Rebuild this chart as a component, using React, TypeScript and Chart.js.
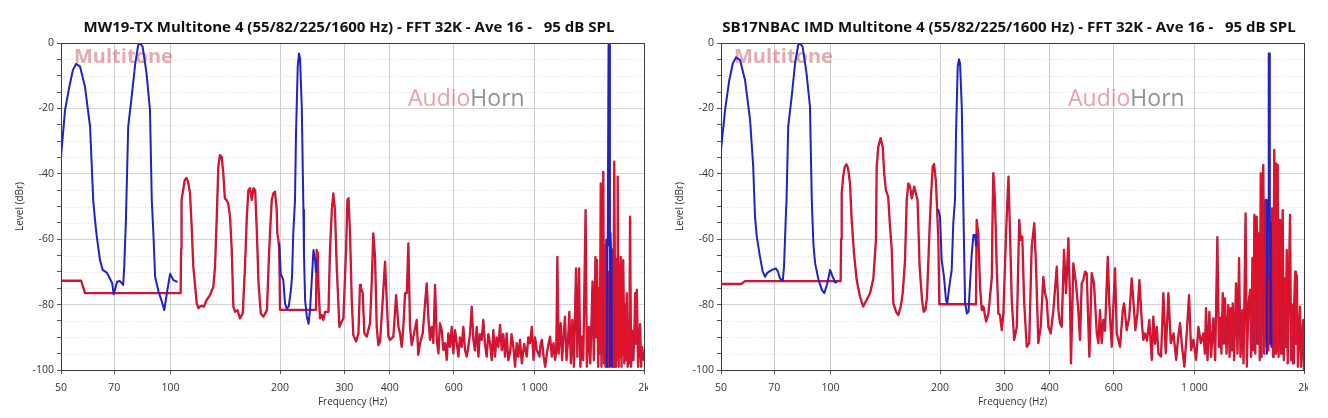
import React, { useEffect, useRef } from 'react';
import { Chart, registerables } from 'chart.js';

Chart.register(...registerables);
Chart.defaults.font.family = "'Open Sans', 'Noto Sans', sans-serif";

type Pt = [number, number];

// ---------- axis ticks ----------
const xTickValues = [50, 70, 100, 200, 300, 400, 600, 1000, 2000];
const xTickLabels = ['50', '70', '100', '200', '300', '400', '600', '1 000', '2k'];
const yLabelValues = [0, -20, -40, -60, -80, -100];

// ---------- titles ----------
const leftTitle = 'MW19-TX Multitone 4 (55/82/225/1600 Hz) - FFT 32K - Ave 16 -   95 dB SPL';
const rightTitle = 'SB17NBAC IMD Multitone 4 (55/82/225/1600 Hz) - FFT 32K - Ave 16 -   95 dB SPL';

// ---------- MW19-TX (left) : fundamentals (blue) ----------
const mwBlueLow: Pt[] = [
  [50, -34.9], [51.3, -20.5], [52.7, -13.4], [53.9, -8.3], [55, -6.4], [56.4, -7.2], [58.2, -13.4], [60.1, -25.6],
  [61.3, -48], [62, -54.1], [62.7, -59.2], [64, -66.4], [65.1, -69.4], [66.9, -70.3], [69.1, -73.4], [69.8, -76.8],
  [71.3, -73], [72.6, -72.8], [74.1, -74], [74.6, -68.4], [75.4, -54.1], [76.5, -25.6], [78.2, -16.4], [79.9, -6.7],
  [81.5, -0.6], [82.4, -0.1], [83.8, -1.1], [85.9, -9.3], [87.8, -20.5], [88.8, -48], [89.7, -58.2], [90.7, -71.5],
  [92.7, -76.1], [94.7, -79.1], [96.1, -81.7], [97.7, -76.5], [99.7, -70.6], [101.8, -72.5], [104, -73],
];
const mwBlueMid: Pt[] = [
  [199, -61.3], [200.8, -70.5], [204.1, -72.5], [206.3, -79.6], [208.5, -81.2], [211.2, -80.6], [213.9, -76.1],
  [215.7, -71.5], [217.4, -58.2], [219.8, -48], [221.2, -27.6], [223.6, -7.2], [225.4, -3.2], [226.9, -4.7],
  [229.4, -19.5], [231.8, -51], [232.6, -64.3], [234.3, -78.6], [236.9, -83.7], [239.4, -85.9], [241.7, -81.7],
  [244.4, -72.5], [247, -63.3], [249.6, -66.4], [251, -70],
];
const mwBlueHigh: Pt[] = [
  [1580, -99], [1584, -60], [1590, -62], [1598, -0.6], [1605, -0.6], [1612, -99], [1618, -58], [1624, -63], [1630, -99],
];

// ---------- MW19-TX (left) : distortion (red) ----------
const mwRed: Pt[] = [
  [50, -72.7], [56.8, -72.7], [58.2, -76.5], [106.6, -76.5], [106.9, -63], [107.2, -48], [108.3, -45], [109.4, -41.9],
  [110.6, -41.3], [111.7, -42.4], [113.1, -45.9], [114.3, -56.2], [115.5, -68.4], [118, -79.6], [119.3, -81.1],
  [120.5, -80.6], [122, -80.4], [123.5, -80.6], [125.6, -78.6], [128.4, -77.1], [131.1, -74.5], [132.5, -68.4],
  [133.9, -54.1], [135.3, -37.8], [136.7, -34.3], [138.2, -34.8], [139.6, -39.8], [141, -47.5], [142.5, -48],
  [144, -49], [145.7, -53.1], [147.3, -63.3], [148.8, -80.6], [150.4, -82.2], [152.7, -81.7], [155.2, -84.2],
  [157.9, -82.7], [160.2, -68.4], [161.9, -54.1], [163.6, -45], [165.4, -44.4], [167.2, -48], [169, -44.4],
  [170.8, -45], [172.7, -58.2], [174.5, -73.5], [177, -82.7], [180, -83.7], [184, -81.7], [185.9, -68.4],
  [187.6, -58.2], [189.7, -48], [191.6, -46], [193.7, -45.5], [195.8, -51.1], [196.5, -58.2], [197.8, -60.2],
  [199, -63.3], [199.9, -81.6], [251, -81.6], [252.1, -63.3], [253.2, -66], [253.8, -64], [254.7, -73.4],
  [257.5, -84.2], [260.3, -83.2], [263, -84.7], [265.9, -82.2], [271.6, -82.2], [274.3, -63], [277.5, -51],
  [280.1, -46], [283, -51], [286.2, -68.4], [291.1, -86.8], [295.4, -85.2], [298.5, -84.2], [303.6, -63.3],
  [306.2, -48], [308.3, -47.5], [311.3, -58.2], [314.7, -78.6], [317.9, -89.3], [323.5, -91.3], [328.3, -88.8],
  [331.6, -74], [333.7, -75], [337.4, -76.5], [340.8, -88.8], [346, -89.8], [353.3, -85.7], [357.1, -73.5],
  [360.8, -58.2], [364.7, -65.4], [368.6, -86.8], [372.4, -92.4], [376.4, -91.3], [382.9, -78.6], [388.5, -66.9],
  [392.7, -78.6], [396.8, -89.8], [401, -90.8], [409.5, -89.8], [416.7, -77.1], [422.9, -86.8], [427.1, -88.8],
  [431.7, -92.9], [436.2, -86.8], [441, -76.5], [445.8, -76.5], [450.4, -61.3], [455, -86.8], [460, -92.4],
  [466.7, -88.8], [474.7, -84.7], [479.5, -95.4], [484.7, -91.8], [493.1, -88.8], [497.2, -83.7], [505.7, -73.5],
  [510.9, -83.7], [516.4, -90.8], [522, -86.8], [527.4, -91.8], [533.2, -74], [539, -90.8], [544.6, -94.9],
  [550.1, -85.7], [556, -87.8], [561.8, -93.9], [567.9, -91.8], [574, -96.9], [579.8, -88.8], [586.1, -92.9],
  [592.5, -86.8], [598.6, -94.9], [605, -87.8], [611.6, -91.8], [618, -95.9], [624, -90], [631, -92.9],
  [637.6, -86.8], [644.5, -93.9], [651.4, -95.9], [658, -92.9], [665, -89], [672.3, -80.6], [679.5, -90.8],
  [686, -94], [694, -86.8], [701.5, -95.9], [708, -89], [716, -90.8], [723.6, -84.7], [731, -91.8], [739.1, -95.9],
  [747, -89], [754.9, -91.8], [763, -97], [770.8, -87.8], [779, -95.9], [787, -90], [796, -92.9], [804.3, -86.2],
  [813, -93.9], [821, -89], [830, -95.9], [838.8, -88.8], [847, -97], [856.8, -94.9], [865, -89], [875, -92.9],
  [884.5, -99], [894, -91.8], [903, -96], [912.8, -90.8], [923, -98], [937, -92], [952, -95.9], [962, -90],
  [972.4, -91.8], [983.4, -86.8], [994, -96.9], [1004, -90], [1015, -93.9], [1032, -95.9], [1040, -92],
  [1048, -90.8], [1060, -96], [1070, -99], [1082, -94.9], [1093, -92], [1104, -89.8], [1116, -95.9], [1128, -91.8],
  [1140, -96.9], [1148, -94], [1156, -65.4], [1165, -95], [1181, -85.7], [1191, -97], [1202, -90], [1213, -83.7],
  [1225, -97], [1237, -91], [1247, -82.2], [1259, -98], [1271, -84.7], [1283, -99], [1301, -68.9], [1312, -96],
  [1326, -68.9], [1337, -99], [1351, -89.8], [1362, -97], [1382, -51.1], [1393, -99], [1411, -86.8], [1424, -98],
  [1444, -73], [1456, -97], [1471, -65.4], [1479, -90], [1486, -66.4], [1497, -99], [1505, -75], [1513, -95],
  [1521, -42.9], [1528, -99], [1536, -70], [1546, -39.4], [1553, -98], [1561, -62], [1568, -99], [1576, -60.2],
  [1586, -99], [1593, -70], [1603, -99], [1613, -72], [1623, -98], [1634, -63.3], [1644, -99], [1651, -70],
  [1657, -36.3], [1668, -99], [1675, -66], [1686, -97], [1693, -40.9], [1704, -99], [1713, -68], [1719, -96],
  [1726, -65.4], [1735, -99], [1743, -72], [1749, -95], [1754, -66.4], [1766, -98], [1777, -80], [1785, -97],
  [1793, -76.5], [1804, -99], [1815, -85], [1822, -98], [1831, -53.1], [1843, -99], [1854, -88], [1870, -97],
  [1880, -90], [1891, -76.5], [1900, -92], [1911, -75.5], [1927, -99], [1939, -92], [1951, -86], [1964, -99],
  [1976, -93], [1992, -95.9], [2000, -97],
];

// ---------- SB17NBAC (right) : fundamentals (blue) ----------
const sbBlueLow: Pt[] = [
  [50, -32.7], [51.3, -20.5], [52.7, -11.3], [53.9, -6.2], [55, -4.4], [56.4, -5.2], [58.2, -11.3], [60.1, -23.5],
  [61.3, -37.8], [62, -53], [62.7, -59.2], [64, -65.4], [65.1, -69.9], [66.1, -71.5], [67.1, -70.2], [69.1, -69.4],
  [70.7, -68.9], [71.7, -69.9], [72.6, -72], [73.9, -72.7], [74.5, -68.4], [75.3, -54.1], [75.7, -48], [76.5, -25.6],
  [78.2, -16.4], [79.9, -6.2], [81.5, -0.6], [82.4, -0.1], [83.8, -1.1], [85.9, -9.3], [87.8, -19.5], [88.8, -48],
  [89.7, -61.3], [90.7, -67.4], [92.7, -72.5], [94.7, -75.5], [96.1, -76.5], [97.7, -74], [99.7, -69.4],
  [101.4, -71.5], [103, -73.3], [104, -73],
];
const sbBlueMid: Pt[] = [
  [197.8, -51], [199.9, -53.1], [202, -66.4], [205, -71.5], [207.6, -78.6], [209.3, -79.6], [212, -74.5],
  [215.2, -69.4], [217.4, -55.1], [219.8, -48], [221.2, -27.6], [223.6, -7.2], [225.4, -5], [226.9, -6.2],
  [229.4, -19.5], [231.8, -51], [232.9, -64.3], [234.3, -79.6], [236.9, -82.7], [239.4, -82.2], [241.7, -73.5],
  [244.4, -64.3], [247, -58.7], [249.6, -58.7], [251, -62],
];
const sbBlueHigh: Pt[] = [
  [1578, -95], [1582, -48], [1588, -72], [1594, -50], [1600, -3.2], [1606, -3.2], [1611, -45], [1616, -92],
  [1622, -55], [1628, -93],
];

// ---------- SB17NBAC (right) : distortion (red) ----------
const sbRed: Pt[] = [
  [50, -73.7], [56.8, -73.7], [58.2, -72.8], [106.6, -72.8], [106.9, -60], [107.3, -46], [108.3, -40.9],
  [109.4, -37.8], [110.6, -37.1], [111.7, -38.3], [113.1, -42.9], [114.3, -54.1], [116, -64.3], [118, -72.5],
  [120.5, -77.6], [123, -80.6], [125.6, -78.6], [128.4, -76.5], [131.1, -72], [133.3, -60.2], [133.9, -37.8],
  [135.3, -31.7], [137.3, -29.1], [139.1, -31.7], [140.4, -39.8], [141.9, -45], [144, -47], [145.7, -56.2],
  [147.3, -63.3], [148.8, -79.6], [151.4, -82.2], [153.6, -83.2], [155.9, -80.6], [157.9, -76.5], [160.2, -66.4],
  [161.9, -48], [163.6, -42.9], [165.4, -43.9], [167.2, -47.5], [169.8, -43.9], [171.6, -46], [173.4, -48],
  [175.7, -68.4], [178.4, -78.6], [180.3, -82.2], [182.2, -81.7], [184.1, -77.6], [187.2, -56.2], [188.6, -48],
  [190.9, -37.8], [192.5, -37], [194.6, -41.9], [195.8, -48], [197.8, -60.2], [199, -79.9], [251, -79.9],
  [252.1, -54.1], [254.7, -58.2], [257.5, -74.5], [260.3, -81.7], [263, -80.6], [267.6, -85.2], [271.6, -82.7],
  [277.5, -71.5], [278.5, -56], [280.1, -39.8], [283, -48], [286.2, -68.4], [289.2, -82.7], [292.2, -83.2],
  [295.4, -87.8], [298.5, -82.7], [303.6, -58.2], [306.2, -48], [308.3, -40.9], [311.3, -58.2], [314.7, -78.6],
  [319.6, -90.8], [325.1, -86.8], [330, -54.1], [333.1, -60.2], [336.5, -59.2], [340.2, -78.6], [346, -92.9],
  [351.4, -91.8], [357.1, -62.3], [363, -55.1], [367, -68.4], [372.4, -91.8], [378, -86.8], [384.3, -71.5],
  [388.5, -76.5], [392.7, -78.6], [396.8, -86.8], [402.8, -88.8], [409.5, -81.7], [418.5, -68.4], [422.9, -81.7],
  [427.1, -85.7], [431.7, -86.8], [438.1, -63.3], [443.7, -76.5], [450.4, -59.7], [455, -78.6], [457.9, -98],
  [464.7, -67.4], [472.6, -73.5], [479.5, -81.7], [484.7, -90.8], [490, -73.5], [495.1, -72.5], [500.5, -69.9],
  [505.7, -70.4], [514.3, -95.9], [522, -70.4], [529.7, -73.5], [539, -88.8], [544.6, -91.8], [550.1, -81.7],
  [556, -91.8], [561.8, -84.7], [567.9, -88], [577.8, -65.4], [583.5, -79.6], [592.5, -92.9], [598.6, -80.6],
  [605, -68.9], [611.6, -88.8], [624.4, -92.9], [635.4, -81.7], [640.6, -79.6], [651.4, -87.8], [662.1, -83.7],
  [672.3, -72], [679.3, -78.6], [688.1, -87.8], [697.1, -82.7], [705.9, -72.5], [717, -85.7], [723.6, -90.8],
  [731.5, -88.8], [740.8, -91], [751.6, -84.7], [763.3, -96.9], [770.8, -83.7], [779.2, -92], [787.6, -86.8],
  [796.6, -95], [809.4, -95.9], [821.4, -76.5], [833.9, -94.9], [848, -76.5], [861.1, -91.8], [875.6, -88.8],
  [890.7, -96.9], [900.5, -90.8], [912.8, -85.7], [924.5, -92.9], [938, -99], [952.3, -88.8], [966.3, -77.1],
  [978.7, -93.9], [993.2, -90.8], [1010.6, -96.9], [1025.5, -86.8], [1041.4, -91.8], [1058.7, -88.8],
  [1068, -95], [1076, -81.1], [1086, -97], [1099, -82.2], [1111, -96], [1127, -84.2], [1140, -97], [1156, -59.4],
  [1167, -93], [1176, -84], [1186, -95], [1196, -76.5], [1205, -92], [1213, -78.1], [1225, -95], [1239, -80.1],
  [1249, -96], [1258, -81.1], [1266, -94], [1274, -79.6], [1285, -97], [1301, -73.5], [1313, -95], [1326, -65.8],
  [1338, -96], [1354, -81.7], [1364, -98], [1382, -52.1], [1393, -99], [1407, -80], [1422, -75.5], [1431, -96],
  [1443, -65.8], [1452, -94], [1461, -52.6], [1470, -95], [1483, -53.1], [1492, -92], [1502, -58.2], [1511, -97],
  [1521, -39.8], [1529, -96], [1537, -60], [1546, -37.3], [1555, -95], [1563, -62], [1570, -48], [1580, -93],
  [1588, -60], [1596, -94], [1607, -70], [1617, -92], [1626, -65], [1634, -50.6], [1644, -96], [1650, -70],
  [1657, -32.7], [1667, -95], [1675, -36.8], [1685, -94], [1693, -37.3], [1703, -96], [1710, -60], [1719, -54.1],
  [1730, -95], [1738, -65], [1748, -51.1], [1760, -97], [1771, -72], [1781, -93], [1793, -63.3], [1804, -98],
  [1816, -75], [1831, -52.6], [1843, -97], [1854, -80], [1868, -98], [1877, -82], [1891, -69.9], [1900, -92],
  [1911, -71], [1924, -99], [1939, -88], [1951, -80.6], [1964, -99], [1976, -90], [1992, -84.7], [2000, -100],
];

// ---------- styling ----------
const BLUE = '#2222c0';
const RED_CORE = '#e8142a';
const RED_EDGE = '#b8163c';

const decorPlugin = {
  id: 'panelDecor',
  beforeDatasetsDraw(chart: any) {
    const { ctx, chartArea: a, scales } = chart;
    const y = scales.y;
    ctx.save();
    // minor dotted horizontal grid
    ctx.strokeStyle = '#dadada';
    ctx.lineWidth = 1;
    ctx.setLineDash([1, 2]);
    for (const t of y.ticks) {
      if (yLabelValues.includes(t.value)) continue;
      const py = Math.round(y.getPixelForValue(t.value)) + 0.5;
      ctx.beginPath();
      ctx.moveTo(a.left, py);
      ctx.lineTo(a.right, py);
      ctx.stroke();
    }
    ctx.setLineDash([]);
    // watermarks
    ctx.textBaseline = 'alphabetic';
    ctx.textAlign = 'left';
    ctx.font = "bold 20px 'Open Sans', sans-serif";
    ctx.fillStyle = 'rgba(208, 100, 110, 0.55)';
    ctx.fillText('Multitone', a.left + 13, a.top + 20);
    ctx.font = "23px 'Open Sans', sans-serif";
    const ax = a.left + 347;
    const ay = a.top + 63;
    ctx.fillStyle = 'rgba(210, 100, 115, 0.6)';
    ctx.fillText('Audio', ax, ay);
    const w = ctx.measureText('Audio').width;
    ctx.fillStyle = 'rgba(110, 110, 110, 0.75)';
    ctx.fillText('Horn', ax + w, ay);
    ctx.restore();
  },
  afterDraw(chart: any, _args: any, opts: any) {
    const { ctx, chartArea: a } = chart;
    ctx.save();
    ctx.strokeStyle = '#3a3a3a';
    ctx.lineWidth = 1;
    ctx.strokeRect(Math.round(a.left) + 0.5, Math.round(a.top) + 0.5, Math.round(a.right - a.left), Math.round(a.bottom - a.top));
    // title
    ctx.fillStyle = '#111';
    ctx.textAlign = 'center';
    ctx.textBaseline = 'middle';
    ctx.font = "bold 15px 'Open Sans', sans-serif";
    ctx.fillText(opts.title, (a.left + a.right) / 2 - 3.5, 28);
    // axis titles
    ctx.fillStyle = '#333';
    ctx.font = "10px 'Open Sans', sans-serif";
    ctx.fillText('Frequency (Hz)', (a.left + a.right) / 2, 402);
    ctx.translate(20, (a.top + a.bottom) / 2);
    ctx.rotate(-Math.PI / 2);
    ctx.fillText('Level (dBr)', 0, 0);
    ctx.restore();
  },
};

function toXY(points: Pt[]) {
  return points.map(([x, y]) => ({ x, y }));
}

interface PanelProps {
  title: string;
  blue: Pt[][];
  red: Pt[];
  left: number;
}

function Panel({ title, blue, red, left }: PanelProps) {
  const ref = useRef<HTMLCanvasElement>(null);
  useEffect(() => {
    const line = { pointRadius: 0, tension: 0, borderJoinStyle: 'round' as const, borderCapStyle: 'round' as const };
    const chart = new Chart(ref.current as HTMLCanvasElement, {
      type: 'line',
      data: {
        datasets: [
          ...blue.map((seg) => ({ data: toXY(seg), borderColor: BLUE, borderWidth: 2, ...line })),
          { data: toXY(red), borderColor: RED_CORE, borderWidth: 0.9, ...line },
          { data: toXY(red), borderColor: RED_EDGE, borderWidth: 2.3, ...line },
        ],
      },
      options: {
        animation: false,
        responsive: false,
        devicePixelRatio: 1,
        layout: { padding: { left: 0, right: 4, top: 43, bottom: 0 } },
        plugins: {
          legend: { display: false },
          tooltip: { enabled: false },
          title: { display: false },
          // @ts-ignore
          panelDecor: { title },
        },
        scales: {
          x: {
            type: 'logarithmic',
            min: 50,
            max: 2000,
            afterBuildTicks: (s: any) => {
              s.ticks = xTickValues.map((v) => ({ value: v }));
            },
            afterFit: (s: any) => {
              s.height = 48;
              s.paddingLeft = 0;
              s.paddingRight = 0;
            },
            ticks: {
              autoSkip: false,
              maxRotation: 0,
              minRotation: 0,
              padding: 8,
              color: '#333',
              font: { size: 10.5 },
              callback: (v: any) => {
                const i = xTickValues.indexOf(Number(v));
                return i >= 0 ? xTickLabels[i] : '';
              },
            },
            grid: { color: '#cdcdcd', tickColor: '#555', tickLength: 4 },
            border: { display: false },
          },
          y: {
            type: 'linear',
            min: -100,
            max: 0,
            afterFit: (s: any) => {
              s.width = 61;
              s.paddingTop = 0;
              s.paddingBottom = 0;
            },
            ticks: {
              stepSize: 5,
              autoSkip: false,
              padding: 3,
              color: '#333',
              font: { size: 10.5 },
              callback: (v: any) => (yLabelValues.includes(Number(v)) ? String(v) : ''),
            },
            grid: {
              color: (c: any) => (c.tick && yLabelValues.includes(c.tick.value) ? '#d4d4d4' : 'rgba(0,0,0,0)'),
              tickColor: '#555',
              tickLength: 4,
            },
            border: { display: false },
          },
        },
      } as any,
      plugins: [decorPlugin],
    });
    return () => chart.destroy();
  }, []);
  return <canvas ref={ref} width={648} height={418} style={{ position: 'absolute', left, top: 0 }} />;
}

export default function App() {
  return (
    <div style={{ position: 'absolute', left: 0, top: 0, width: 1328, height: 418, background: '#fff' }}>
      <Panel title={leftTitle} blue={[mwBlueLow, mwBlueMid, mwBlueHigh]} red={mwRed} left={0} />
      <Panel title={rightTitle} blue={[sbBlueLow, sbBlueMid, sbBlueHigh]} red={sbRed} left={660} />
    </div>
  );
}
